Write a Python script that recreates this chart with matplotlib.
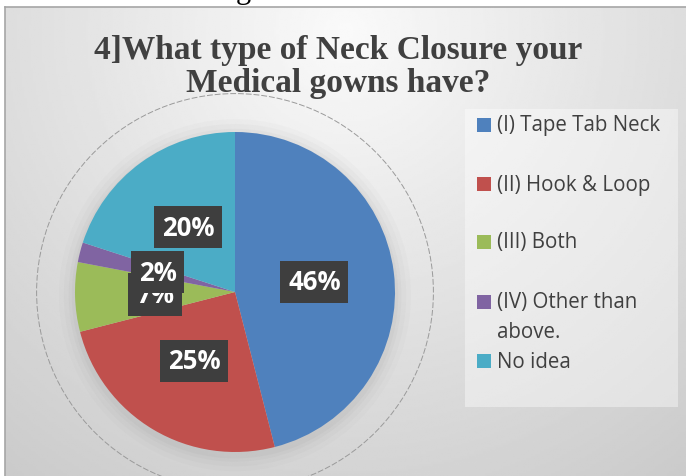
import matplotlib.pyplot as plt
import numpy as np
from matplotlib.patches import Rectangle, Circle
from matplotlib.lines import Line2D

# data
labels = ['(I) Tape Tab Neck', '(II) Hook & Loop', '(III) Both', '(IV) Other than\nabove.', 'No idea']
values = [46, 25, 7, 2, 20]
colors = ['#4F81BD', '#C0504D', '#9BBB59', '#8064A2', '#4BACC6']
title = '4]What type of Neck Closure your\nMedical gowns have?'

W, H = 686, 477
fig = plt.figure(figsize=(W / 100, H / 100), dpi=100)


def fx(px):
    return px / W


def fy(py):
    return 1 - py / H


# stray letter of the page text just above the chart
fig.text(fx(236), fy(-2), 'g', family='Liberation Serif', fontsize=22,
         va='baseline', color='black', zorder=-5)

# chart area with a soft radial grey gradient
bg = fig.add_axes([fx(5), 0, 1 - fx(5), fy(8)])
gx, gy = np.meshgrid(np.linspace(0, 1, 300), np.linspace(0, 1, 220))
d = np.sqrt(((gx - 0.5) / 0.8) ** 2 + ((gy - 0.05) / 1.15) ** 2)
shade = 0.98 - 0.18 * np.clip(d, 0, 1.2)
bg.imshow(shade, cmap='gray', vmin=0, vmax=1, aspect='auto', extent=(0, 1, 1, 0))
bg.set_xlim(0, 1)
bg.set_ylim(1, 0)
bg.axis('off')
fig.add_artist(Line2D([fx(5), 1], [fy(8), fy(8)], color='#a6a6a6', lw=1.2))
fig.add_artist(Line2D([fx(5), fx(5)], [0, fy(8)], color='#a6a6a6', lw=1.2))

fig.text(fx(338), fy(67), title, ha='center', va='center', family='Liberation Serif',
         weight='bold', fontsize=24, color='#404040', linespacing=1.05)

# pie
ax = fig.add_axes([fx(75), fy(453), 320 / W, 320 / H])
for r, a in [(1.10, 0.03), (1.07, 0.04), (1.04, 0.05), (1.02, 0.06)]:
    ax.add_patch(Circle((0, -0.02), r, color='#808080', alpha=a, lw=0, clip_on=False))
ax.add_patch(Circle((0, 0), 1.24, fill=False, ec='#9a9a9a', lw=0.7, ls=(0, (6, 2)),
                    clip_on=False))
wedges, texts, autotexts = ax.pie(values, colors=colors, startangle=90, counterclock=False,
                                  autopct='%1.0f%%', pctdistance=0.5,
                                  wedgeprops=dict(lw=0))
for t in autotexts:
    t.set_color('white')
    t.set_fontweight('bold')
    t.set_family('Open Sans')
    t.set_fontsize(18.5)
    t.set_bbox(dict(boxstyle='square,pad=0.3', fc='#3e3e3e', ec='none'))
ax.set_xlim(-1, 1)
ax.set_ylim(-1, 1)

# legend box drawn by hand
fig.add_artist(Rectangle((fx(465), fy(408)), (678 - 465) / W, (408 - 110) / H,
                         transform=fig.transFigure, fc='white', alpha=0.4, ec='none'))
rows = [126, 185, 243, 303, 362]
for lab, c, y in zip(labels, colors, rows):
    fig.add_artist(Rectangle((fx(477), fy(y + 7)), 14 / W, 14 / H,
                             transform=fig.transFigure, fc=c, ec='none'))
    for k, line in enumerate(lab.split('\n')):
        fig.text(fx(497), fy(y + 30 * k), line, va='center', ha='left',
                 family='Open Sans', fontsize=14.8, color='#404040')

fig.savefig('out.png', dpi=100)
